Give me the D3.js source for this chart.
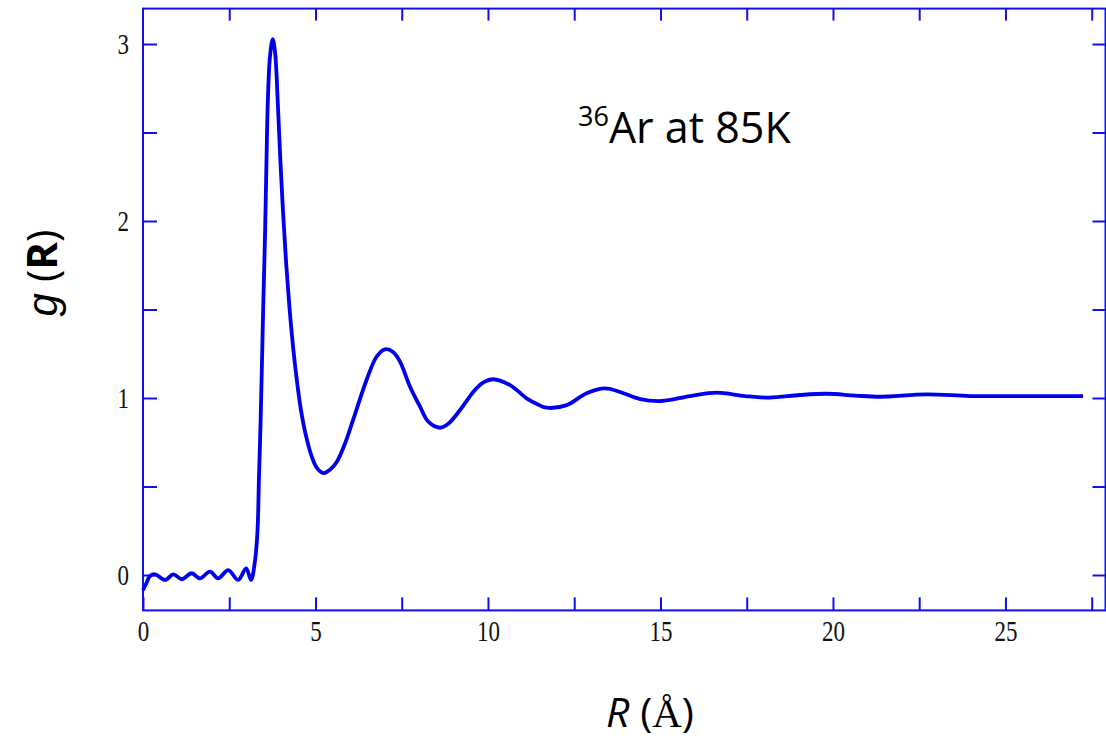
<!DOCTYPE html>
<html>
<head>
<meta charset="utf-8">
<script src="https://cdn.jsdelivr.net/npm/d3@7"></script>
<style>
  body { margin: 0; background: #fff; }
  svg { display: block; }
</style>
</head>
<body>
<svg width="1106" height="741"></svg>
<script>
// radial distribution function of liquid 36Ar at 85 K
const rValues = [0, 0.09, 0.2, 0.35, 0.64, 0.88, 1.12, 1.41, 1.65, 1.94, 2.18, 2.47, 2.76, 2.99, 3.13,
  3.25, 3.32, 3.36, 3.41, 3.45, 3.49, 3.54, 3.58, 3.62, 3.68, 3.76, 3.83, 3.90, 3.98, 4.06,
  4.15, 4.25, 4.36, 4.46, 4.58, 4.72, 4.89, 5.04, 5.23, 5.42, 5.62, 5.85, 6.09, 6.48, 6.77, 7.01,
  7.25, 7.45, 7.74, 8.03, 8.27, 8.61, 8.84, 9.19, 9.62, 9.88, 10.15, 10.64, 11.12, 11.42, 11.70,
  12.28, 12.86, 13.39, 13.83, 14.41, 15.03, 15.86, 16.63, 17.45, 18.17, 19.04, 19.82, 20.64, 21.36,
  22.72, 23.97, 25.42, 27.25];
const gValues = [-0.085, -0.05, -0.006, 0.004, -0.028, 0.004, -0.024, 0.01, -0.019, 0.019, -0.019, 0.028, -0.028, 0.038, -0.028,
  0.085, 0.254, 0.537, 0.876, 1.215, 1.554, 1.949, 2.345, 2.684, 2.927, 3.028, 2.95, 2.70, 2.35, 2.05,
  1.76, 1.50, 1.27, 1.10, 0.93, 0.79, 0.67, 0.605, 0.575, 0.595, 0.64, 0.74, 0.876, 1.102, 1.233, 1.275,
  1.26, 1.205, 1.064, 0.951, 0.866, 0.832, 0.853, 0.932, 1.045, 1.09, 1.106, 1.073, 0.998, 0.966, 0.945,
  0.960, 1.027, 1.054, 1.034, 0.994, 0.983, 1.011, 1.030, 1.011, 1.002, 1.017, 1.024, 1.014, 1.007,
  1.021, 1.011, 1.011, 1.011];

const xTickValues = [0, 2.5, 5, 7.5, 10, 12.5, 15, 17.5, 20, 22.5, 25, 27.5];
const xTickLabels = ["0", "", "5", "", "10", "", "15", "", "20", "", "25", ""];
const yTickValues = [0, 0.5, 1, 1.5, 2, 2.5, 3];
const yTickLabels = ["0", "", "1", "", "2", "", "3"];

const data = rValues.map((r, i) => ({ r: r, g: gValues[i] }));

const blue = "#1010ee";
const svg = d3.select("svg");

const x = d3.scaleLinear().domain([0, 27.9]).range([143, 1105.5]);
const y = d3.scaleLinear().domain([-0.2, 3.2]).range([610.4, 8.6]);

const tickFont = "'Liberation Serif', 'Times New Roman', serif";
const stretch = 1.25; // tick digits in the original are tall and narrow

function styleAxis(g) {
  g.select(".domain").remove();
  g.selectAll(".tick line").attr("stroke", blue).attr("stroke-width", 2);
  g.selectAll(".tick text")
    .attr("fill", "#111")
    .style("font-family", tickFont)
    .style("font-size", "23px");
}

// bottom axis with labels
svg.append("g")
  .attr("transform", `translate(0,${y(-0.2)})`)
  .call(d3.axisBottom(x).tickValues(xTickValues).tickSizeInner(-13).tickSizeOuter(0)
    .tickFormat((d, i) => xTickLabels[i]))
  .call(styleAxis)
  .call(g => g.selectAll(".tick text")
    .attr("dy", 0)
    .attr("y", 31 / stretch)
    .attr("transform", `scale(1,${stretch})`));

// top mirror ticks
svg.append("g")
  .attr("transform", `translate(0,${y(3.2)})`)
  .call(d3.axisTop(x).tickValues(xTickValues.slice(1)).tickSizeInner(-12).tickSizeOuter(0).tickFormat(""))
  .call(styleAxis);

// left axis with labels
svg.append("g")
  .attr("transform", `translate(${x(0)},0)`)
  .call(d3.axisLeft(y).tickValues(yTickValues).tickSizeInner(-14).tickSizeOuter(0)
    .tickPadding(14).tickFormat((d, i) => yTickLabels[i]))
  .call(styleAxis)
  .call(g => g.selectAll(".tick text")
    .attr("dy", 0)
    .attr("y", 9 / stretch)
    .attr("transform", `scale(1,${stretch})`));

// right mirror ticks
svg.append("g")
  .attr("transform", `translate(${x(27.9)},0)`)
  .call(d3.axisRight(y).tickValues(yTickValues).tickSizeInner(-13).tickSizeOuter(0).tickFormat(""))
  .call(styleAxis);

// frame
svg.append("rect")
  .attr("x", x(0))
  .attr("y", y(3.2))
  .attr("width", x(27.9) - x(0))
  .attr("height", y(-0.2) - y(3.2))
  .attr("fill", "none")
  .attr("stroke", blue)
  .attr("stroke-width", 2);

// curve
const line = d3.line()
  .x(d => x(d.r))
  .y(d => y(d.g))
  .curve(d3.curveCatmullRom.alpha(0.5));

svg.append("path")
  .datum(data)
  .attr("fill", "none")
  .attr("stroke", "#0000ee")
  .attr("stroke-width", 3.8)
  .attr("stroke-linejoin", "round")
  .attr("d", line);

// annotation
const note = svg.append("text")
  .attr("x", 578)
  .attr("y", 143)
  .style("font-family", "'Open Sans', sans-serif")
  .style("font-size", "43px")
  .attr("fill", "#000");
note.append("tspan").attr("font-size", "27px").attr("dy", -17).text("36");
note.append("tspan").attr("dy", 17).text("Ar at 85K");

// y axis title
const yTitle = svg.append("text")
  .attr("transform", "translate(57,273) rotate(-90)")
  .attr("text-anchor", "middle")
  .style("font-family", "'Open Sans', sans-serif")
  .style("font-size", "42px")
  .attr("fill", "#000");
yTitle.append("tspan").attr("font-style", "italic").style("font-family", "'Liberation Sans', sans-serif").text("g");
yTitle.append("tspan").text(" (");
yTitle.append("tspan").attr("font-weight", "bold").text("R");
yTitle.append("tspan").text(")");

// x axis title
const xTitle = svg.append("text")
  .attr("x", 650)
  .attr("y", 727)
  .attr("text-anchor", "middle")
  .style("font-family", "'Open Sans', sans-serif")
  .style("font-size", "41px")
  .attr("fill", "#000");
xTitle.append("tspan").attr("font-style", "italic").text("R");
xTitle.append("tspan").text(" (");
xTitle.append("tspan").style("font-family", "'Liberation Serif', serif").text("Å");
xTitle.append("tspan").text(")");
</script>
</body>
</html>
